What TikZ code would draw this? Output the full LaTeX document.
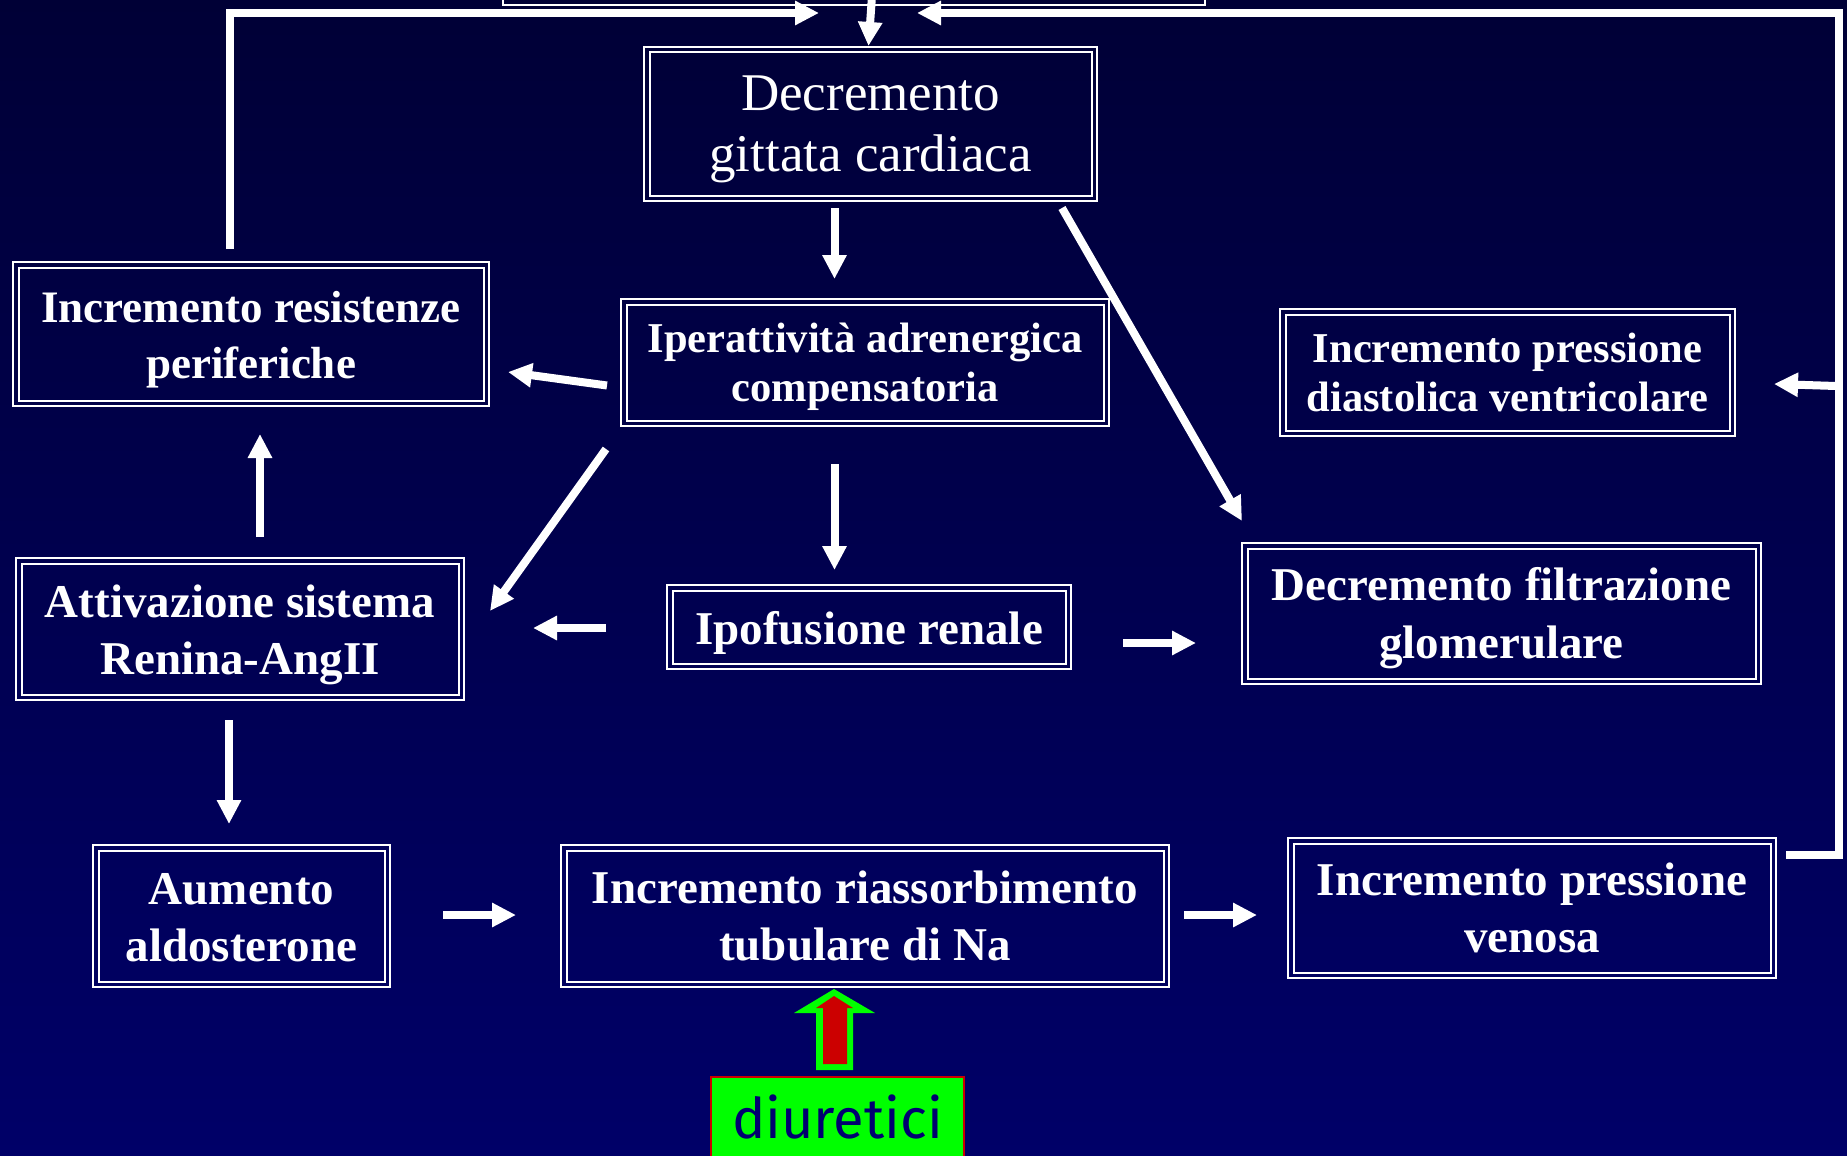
\documentclass[tikz,border=0pt]{standalone}
\usepackage{fontspec}
\setmainfont{Liberation Serif}
\newfontfamily\diurfont{Fira Sans}
\usetikzlibrary{arrows.meta,calc}
\definecolor{bgtop}{HTML}{000036}
\definecolor{bgbot}{HTML}{000068}
\definecolor{dgreen}{HTML}{00FF00}
\definecolor{dred}{HTML}{CC0000}
\definecolor{dtext}{HTML}{000070}
\newcommand{\boxtext}[2]{\raisebox{#1}[0pt][0pt]{\begin{tabular}[t]{@{}c@{}}#2\end{tabular}}}
\tikzset{
  bx/.style 2 args={draw=white, line width=1pt, minimum width=#1*0.5pt,
    minimum height=#2*0.5pt, inner sep=0pt, align=center, text=white,
    font=\bfseries\fontsize{23.5}{28.75}\selectfont},
  smallbx/.style={font=\bfseries\fontsize{21.25}{24.5}\selectfont},
  arr/.style={draw=white, line width=4pt, -{Triangle[length=12pt,width=11.5pt]}},
  innerline/.style={draw=white, line width=1pt},
}
\begin{document}
\begin{tikzpicture}[x=0.5pt,y=-0.5pt]
\useasboundingbox (0,0) rectangle (1847,1156);
\path[clip] (0,0) rectangle (1847,1156);
\shade[top color=bgtop, bottom color=bgbot] (0,0) rectangle (1847,1156);

% boxes
\node[bx={702}{100}] (topb) at (854,-45) {};
\node[bx={453}{154}, font=\fontsize{26.5}{30.5}\selectfont] (dgc) at (870.5,124) {\boxtext{6.5pt}{Decremento\\gittata cardiaca}};
\node[bx={476}{144}, font=\bfseries\fontsize{22.5}{28.3}\selectfont] (irp) at (251,334) {\boxtext{5.9pt}{Incremento resistenze\\periferiche}};
\node[bx={488}{127}, smallbx] (iac) at (865,362.5) {\boxtext{5pt}{Iperattività adrenergica\\compensatoria}};
\node[bx={455}{127}, smallbx] (ipdv) at (1507.5,372.5) {\boxtext{5.15pt}{Incremento pressione\\diastolica ventricolare}};
\node[bx={448}{142}] (asr) at (240,629) {\boxtext{5.9pt}{Attivazione sistema\\Renina-AngII}};
\node[bx={404}{84}] (ipr) at (869,627) {\boxtext{-8.6pt}{Ipofusione renale}};
\node[bx={519}{141}] (dfg) at (1501.5,613.5) {\boxtext{6.3pt}{Decremento filtrazione\\glomerulare}};
\node[bx={297}{142}] (aa) at (241.5,916) {\boxtext{6pt}{Aumento\\aldosterone}};
\node[bx={608}{142}] (irt) at (865,916) {\boxtext{6.35pt}{Incremento riassorbimento\\tubulare di Na}};
\node[bx={488}{140}] (ipv) at (1532,908) {\boxtext{6.5pt}{Incremento pressione\\venosa}};

\foreach \n in {topb,dgc,irp,iac,ipdv,asr,ipr,dfg,aa,irt,ipv}
  \draw[innerline] ($(\n.north west)+(6.5,6.5)$) rectangle ($(\n.south east)+(-6.5,-6.5)$);

% diuretici
\node[draw=dred, line width=1pt, fill=dgreen, minimum width=253*0.5pt, minimum height=100*0.5pt,
  inner sep=0pt, text=dtext, font=\diurfont\fontsize{28}{32}\selectfont, anchor=north] (diur) at (837.5,1076)
  {\raisebox{-5.5pt}[0pt][0pt]{diuretici}};
\fill[dgreen] (834,989) -- (875,1013) -- (853,1013) -- (853,1070) -- (816,1070) -- (816,1013) -- (794,1013) -- cycle;
\fill[dred] (834,996) -- (853,1008) -- (847,1008) -- (847,1064) -- (823,1064) -- (823,1008) -- (816,1008) -- cycle;

% connectors
\draw[arr] ($(irp.north)+(-21,-12)$) |- ($(topb.south)+(-35,7)$);
\draw[arr] ($(ipv.north east)+(9,18)$) -- ++(53,0) |- ($(topb.south)+(63,7)$);
\coordinate (vl) at (1836,386);
\draw[arr] (vl) -- ($(ipdv.east)+(38,11.5)$);
\draw[arr] ($(topb.south)+(18,-10)$) -- ($(dgc.north)+(-2,0)$);
\draw[arr] ($(dgc.south)+(-36,6)$) -- ($(iac.north)+(-30.5,-19)$);
\draw[arr] ($(dgc.south east)+(-36,6)$) -- ($(dfg.north west)+(1,-21)$);
\draw[arr] ($(iac.west)+(-13,23)$) -- ($(irp.east)+(18,38)$);
\draw[arr] ($(iac.south west)+(-14,22)$) -- ($(asr.east)+(25,-18)$);
\draw[arr] ($(iac.south)+(-30.5,37)$) -- ($(ipr.north)+(-34.5,-14)$);
\draw[arr] ($(ipr.west)+(-60,1)$) -- ($(asr.east)+(68,-1)$);
\draw[arr] ($(ipr.east)+(51,16)$) -- ($(dfg.west)+(-45,29.5)$);
\draw[arr] ($(asr.north)+(20,-20)$) -- ($(irp.south)+(9,27)$);
\draw[arr] ($(asr.south)+(-11,19)$) -- ($(aa.north)+(-12.5,-20)$);
\draw[arr] ($(aa.east)+(52,-1)$) -- ($(irt.west)+(-44,-1)$);
\draw[arr] ($(irt.east)+(14,-1)$) -- ($(ipv.west)+(-30,7)$);
\end{tikzpicture}
\end{document}
